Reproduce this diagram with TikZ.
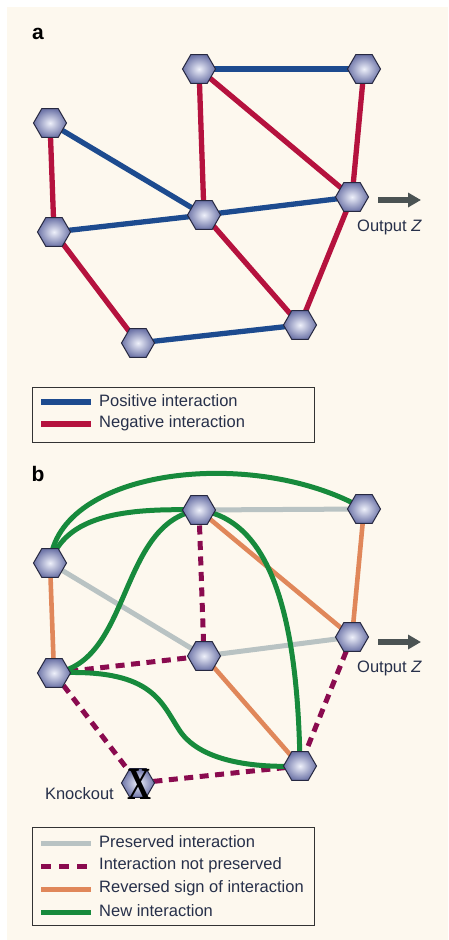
\documentclass[tikz,border=0pt]{standalone}
\usepackage{fontspec}
\setmainfont{Liberation Sans}
\newfontfamily\xfont{Liberation Serif}
\usetikzlibrary{shapes.geometric,arrows.meta}
\pgfdeclarelayer{paper}
\pgfdeclarelayer{edges}
\pgfsetlayers{paper,edges,main}

\definecolor{cream}{HTML}{FDF8EE}
\definecolor{posblue}{HTML}{1D4B8F}
\definecolor{negred}{HTML}{B5123E}
\definecolor{keepgray}{HTML}{B9C3C3}
\definecolor{lostpurple}{HTML}{8A0B4F}
\definecolor{revorange}{HTML}{E0875A}
\definecolor{newgreen}{HTML}{178A3C}
\definecolor{hexout}{HTML}{6E75A8}
\definecolor{hexin}{HTML}{EEF0FA}
\definecolor{hexline}{HTML}{262840}
\definecolor{arrowgray}{HTML}{4B5353}
\definecolor{txt}{HTML}{27304A}

\tikzset{
  gene/.style={regular polygon, regular polygon sides=6, minimum size=33pt,
    inner sep=0pt, draw=hexline, line width=1pt,
    shading=radial, inner color=hexin, outer color=hexout},
  posedge/.style={draw=posblue, line width=5.3pt},
  negedge/.style={draw=negred, line width=5.3pt},
  keepedge/.style={draw=keepgray, line width=5pt},
  lostedge/.style={draw=lostpurple, line width=5pt, dash pattern=on 9pt off 6.5pt},
  revedge/.style={draw=revorange, line width=4.6pt},
  newedge/.style={draw=newgreen, line width=5pt},
  outarrow/.style={draw=arrowgray, line width=5.5pt, -{Triangle[length=13pt,width=14pt]}},
  lbl/.style={font=\fontsize{16.5}{18}\selectfont, text=txt, inner sep=0pt},
  panel/.style={font=\fontsize{21}{22}\selectfont\bfseries, inner sep=0pt},
  legendbox/.style={draw=black!80, line width=1.3pt},
}

\begin{document}
\begin{tikzpicture}[x=1pt,y=-1pt]
\useasboundingbox (0,0) rectangle (448,940);
\begin{pgfonlayer}{paper}
  \fill[cream] (7,7) rectangle (448,940);
\end{pgfonlayer}

% ---------- panel a ----------
\node[panel] (la) at (38,34) {a};
\node[gene] (a1) at (199,69) {};
\node[gene] (a2) at (364,69) {};
\node[gene] (a3) at (50,123) {};
\node[gene] (a4) at (352,197) {};
\node[gene] (a5) at (204,215) {};
\node[gene] (a6) at (54,232) {};
\node[gene] (a7) at (300,325) {};
\node[gene] (a8) at (138,343) {};

\begin{pgfonlayer}{edges}
  \draw[posedge] (a1.center) -- (a2.center);
  \draw[posedge] (a3.center) -- (a5.center);
  \draw[posedge] (a6.center) -- (a5.center) -- (a4.center);
  \draw[posedge] (a8.center) -- (a7.center);
  \draw[negedge] (a1.center) -- (a5.center);
  \draw[negedge] (a1.center) -- (a4.center);
  \draw[negedge] (a2.center) -- (a4.center);
  \draw[negedge] (a3.center) -- (a6.center);
  \draw[negedge] (a6.center) -- (a8.center);
  \draw[negedge] (a5.center) -- (a7.center);
  \draw[negedge] (a4.center) -- (a7.center);
\end{pgfonlayer}

\coordinate (oa0) at (378,200);
\coordinate (oa1) at (421,200);
\draw[outarrow] (oa0) -- (oa1);
\node[lbl, anchor=west] (za) at (357,227) {Output \textit{Z}};

% legend a
\node[legendbox, minimum width=282pt, minimum height=55pt, anchor=north west, inner sep=0pt] (lega) at (32,387) {};
\coordinate (pa0) at (41,402); \coordinate (pa1) at (91,402);
\coordinate (na0) at (41,424); \coordinate (na1) at (91,424);
\draw[posedge] (pa0) -- (pa1);
\draw[negedge] (na0) -- (na1);
\node[lbl, anchor=west] (tpa) at (99,401) {Positive interaction};
\node[lbl, anchor=west] (tna) at (99,423) {Negative interaction};

% ---------- panel b ----------
\node[panel] (lb) at (38,474) {b};
\node[gene] (b1) at (199,510) {};
\node[gene] (b2) at (364,509) {};
\node[gene] (b3) at (50,563) {};
\node[gene] (b4) at (352,637) {};
\node[gene] (b5) at (204,656) {};
\node[gene] (b6) at (54,673) {};
\node[gene] (b7) at (300,766) {};
\node[gene] (b8) at (138,783) {};
\node[font=\xfont\fontsize{46}{46}\selectfont\bfseries, xscale=0.72, inner sep=0pt] (ko) at (139,784) {X};

\begin{pgfonlayer}{edges}
  % preserved
  \draw[keepedge] (b1.center) -- (b2.center);
  \draw[keepedge] (b3.center) -- (b5.center);
  \draw[keepedge] (b5.center) -- (b4.center);
  % reversed sign
  \draw[revedge] (b3.center) -- (b6.center);
  \draw[revedge] (b1.center) -- (b4.center);
  \draw[revedge] (b2.center) -- (b4.center);
  \draw[revedge] (b5.center) -- (b7.center);
  % lost
  \draw[lostedge] (b1.center) -- (b5.center);
  \draw[lostedge] (b6.center) -- (b5.center);
  \draw[lostedge] (b6.center) -- (b8.center);
  \draw[lostedge] (b8.center) -- (b7.center);
  \draw[lostedge] (b4.center) -- (b7.center);
  % new interactions
  \draw[newedge] (b3.center) .. controls (58,468) and (255,446) .. (b2.center);
  \draw[newedge] (b3.center) .. controls (66,515) and (125,508) .. (b1.center);
  \draw[newedge] (b6.center) .. controls (132,662) and (118,522) .. (b1.center);
  \draw[newedge] (b1.center) .. controls (272,520) and (298,620) .. (b7.center);
  \draw[newedge] (b6.center) .. controls (150,668) and (160,700) .. (178,728)
                         .. controls (198,762) and (255,768) .. (b7.center);
\end{pgfonlayer}

\coordinate (ob0) at (378,642);
\coordinate (ob1) at (421,642);
\draw[outarrow] (ob0) -- (ob1);
\node[lbl, anchor=west] (zb) at (357,668) {Output \textit{Z}};
\node[lbl, anchor=east] (kot) at (114,794) {Knockout};

% legend b
\node[legendbox, minimum width=282pt, minimum height=98pt, anchor=north west, inner sep=0pt] (legb) at (32,827) {};
\coordinate (g0) at (41,843); \coordinate (g1) at (91,843);
\coordinate (d0) at (41,866); \coordinate (d1) at (91,866);
\coordinate (r0) at (41,889); \coordinate (r1) at (91,889);
\coordinate (n0) at (41,912); \coordinate (n1) at (91,912);
\draw[keepedge] (g0) -- (g1);
\draw[lostedge, dash pattern=on 10pt off 8pt] (d0) -- (d1);
\draw[revedge, line width=5pt] (r0) -- (r1);
\draw[newedge] (n0) -- (n1);
\node[lbl, anchor=west] (tg) at (99,842) {Preserved interaction};
\node[lbl, anchor=west] (td) at (99,865) {Interaction not preserved};
\node[lbl, anchor=west] (tr) at (99,888) {Reversed sign of interaction};
\node[lbl, anchor=west] (tn) at (99,911) {New interaction};
\end{tikzpicture}
\end{document}
